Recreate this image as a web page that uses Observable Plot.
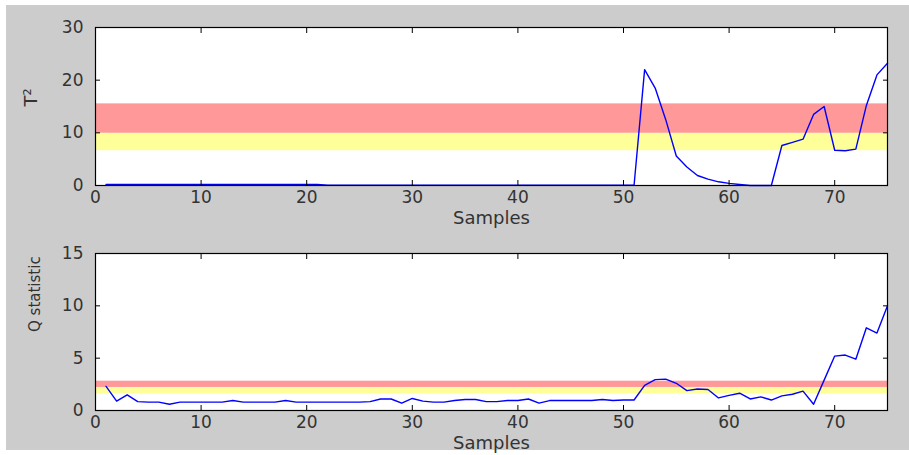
<!DOCTYPE html>
<html><head><meta charset="utf-8">
<script src="https://cdn.jsdelivr.net/npm/d3@7"></script>
<script src="https://cdn.jsdelivr.net/npm/@observablehq/plot@0.6"></script>
<style>
html,body{margin:0;padding:0;background:#fff}
body{width:909px;height:455px;overflow:hidden;position:relative}
#bg{position:absolute;left:6px;top:5px;width:903px;height:445px;background:#cccccc}
#p1{position:absolute;left:0;top:0}
#p2{position:absolute;left:0;top:228px}
</style></head><body>
<div id="bg"></div><div id="p1"></div><div id="p2"></div>
<script>
const samples = [1,2,3,4,5,6,7,8,9,10,11,12,13,14,15,16,17,18,19,20,21,22,23,24,25,
  26,27,28,29,30,31,32,33,34,35,36,37,38,39,40,41,42,43,44,45,46,47,48,49,50,
  51,52,53,54,55,56,57,58,59,60,61,62,63,64,65,66,67,68,69,70,71,72,73,74,75];
const t2 = [0.2,0.2,0.2,0.2,0.2,0.2,0.2,0.2,0.2,0.2,0.2,0.2,0.2,0.2,0.2,0.2,0.2,0.2,0.2,0.2,0.2,
  0.05,0.05,0.05,0.05,0.05,0.05,0.05,0.05,0.05,0.05,0.05,0.05,0.05,0.05,0.05,0.05,0.05,0.05,0.05,
  0.05,0.05,0.05,0.05,0.05,0.05,0.05,0.05,0.05,0.05,0.05,
  22,18.5,12.5,5.6,3.5,1.9,1.2,0.7,0.4,0.2,0,0,0,
  7.6,8.2,8.8,13.5,15,6.7,6.6,6.9,15.2,21,23.2];
const q = [2.3,0.9,1.5,0.85,0.8,0.8,0.6,0.8,0.8,0.8,0.8,0.8,0.95,0.8,0.8,0.8,0.8,0.95,0.8,0.8,
  0.8,0.8,0.8,0.8,0.8,0.85,1.1,1.1,0.7,1.15,0.9,0.8,0.8,0.95,1.05,1.05,0.85,0.85,0.95,0.95,
  1.1,0.7,0.95,0.95,0.95,0.95,0.95,1.05,0.95,1.0,1.0,2.4,2.95,3.0,2.6,1.9,2.05,2.0,1.2,1.45,
  1.65,1.1,1.3,1.0,1.4,1.55,1.85,0.6,2.9,5.2,5.3,4.9,7.9,7.4,10.0];
const xTicks = [0,10,20,30,40,50,60,70];
const t2Ticks = [0,10,20,30];
const qTicks = [0,5,10,15];
const t2Warn = [6.6, 9.9];   // yellow band
const t2Alarm = [9.9, 15.5]; // red band
const qWarn = [1.6, 2.2];
const qAlarm = [2.2, 2.8];
const xLabel = "Samples";
const t2Label = "T²";
const qLabel = "Q statistic";

const t2Data = samples.map((s,i)=>({sample:s, v:t2[i]}));
const qData = samples.map((s,i)=>({sample:s, v:q[i]}));

function chart(data, yDomain, yTicks, warn, alarm, ylab, mt, mb, h, ylabSize, ylabDx) {
  const none = () => "";
  return Plot.plot({
    width: 909, height: h,
    marginLeft: 95, marginRight: 22, marginTop: mt, marginBottom: mb,
    style: {background: "transparent", fontFamily: "DejaVu Sans, sans-serif", fontSize: "17px", color: "#333"},
    x: {domain: [0, 75]},
    y: {domain: yDomain},
    marks: [
      Plot.frame({fill: "white"}),
      Plot.rect([alarm], {y1: d=>d[0], y2: d=>d[1], fill: "#ff9999"}),
      Plot.rect([warn], {y1: d=>d[0], y2: d=>d[1], fill: "#ffff99"}),
      Plot.lineY(data, {x: "sample", y: "v", stroke: "#0000ff", strokeWidth: 1.4}),
      Plot.axisX(xTicks, {anchor: "bottom", tickSize: -5, tickFormat: none, label: null, stroke: "#000"}),
      Plot.axisX(xTicks, {anchor: "top", tickSize: -5, tickFormat: none, label: null, stroke: "#000"}),
      Plot.axisY(yTicks, {anchor: "left", tickSize: -5, tickFormat: none, label: null, stroke: "#000"}),
      Plot.axisY(yTicks, {anchor: "right", tickSize: -5, tickFormat: none, label: null, stroke: "#000"}),
      Plot.text(xTicks, {x: d=>d, frameAnchor: "bottom", dy: 17, fontSize: 17, fill: "#333"}),
      Plot.text(yTicks, {y: d=>d, frameAnchor: "left", dx: -12, textAnchor: "end", fontSize: 17, fill: "#333"}),
      Plot.frame({stroke: "#000", strokeWidth: 1.2}),
      Plot.text([xLabel], {frameAnchor: "bottom", dy: 38, fontSize: 18, letterSpacing: "2px", fill: "#333"}),
      Plot.text([ylab], {frameAnchor: "left", dx: ylabDx, rotate: -90, fontSize: ylabSize, fill: "#333"})
    ]
  });
}

document.getElementById("p1").append(chart(t2Data, [0,30], t2Ticks, t2Warn, t2Alarm, t2Label, 27, 43, 228, 18, -64));
document.getElementById("p2").append(chart(qData, [0,15], qTicks, qWarn, qAlarm, qLabel, 25, 45, 227, 15, -60));
</script>
</body></html>
